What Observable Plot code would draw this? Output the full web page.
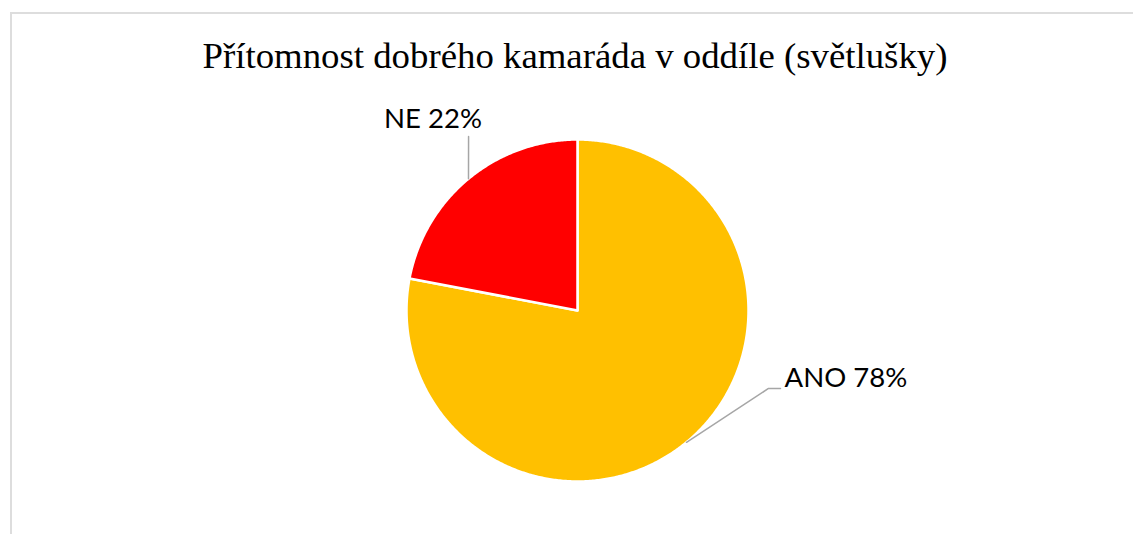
<!DOCTYPE html>
<html>
<head>
<meta charset="utf-8">
<script src="https://cdn.jsdelivr.net/npm/d3@7"></script>
<script src="https://cdn.jsdelivr.net/npm/@observablehq/plot@0.6"></script>
<style>
  html, body { margin: 0; padding: 0; background: #fff; }
  #wrap { position: relative; width: 1133px; height: 534px; overflow: hidden; }
  #frame { position: absolute; left: 10px; top: 12px; width: 1300px; height: 700px;
           border-left: 2px solid #DDDDDD; border-top: 2px solid #DDDDDD; box-sizing: border-box; }
  #chart { position: absolute; left: 0; top: 0; }
</style>
</head>
<body>
<div id="wrap"><div id="frame"></div><div id="chart"></div></div>
<script>
// ---- data ----
const title = "Přítomnost dobrého kamaráda v oddíle (světlušky)";
const categories = ["ANO", "NE"];
const values = [78, 22];
const labels = ["ANO 78%", "NE 22%"];
const colors = ["#FFC000", "#FF0000"];

// ---- layout (styling only) ----
// label placement in unit-radius coordinates
const labelLayout = {
  ANO: { leader: [[1.117, -0.456], [1.187, -0.456]], text: [1.211, -0.448], anchor: "start" },
  NE:  { leader: [[-0.637, 1.018]], text: [-0.845, 1.070], anchor: "middle" }
};

// ---- derived geometry from values (pie, clockwise from 12 o'clock) ----
const total = d3.sum(values);
const slices = [];
let acc = 0;
categories.forEach((c, i) => {
  const a0 = acc / total * 2 * Math.PI;
  acc += values[i];
  const a1 = acc / total * 2 * Math.PI;
  slices.push({ cat: c, a0, a1, mid: (a0 + a1) / 2, label: labels[i] });
});
const pt = (a, r = 1) => [r * Math.sin(a), r * Math.cos(a)];

const slicePts = [];
for (const s of slices) {
  slicePts.push({ cat: s.cat, x: 0, y: 0 });
  const n = Math.max(2, Math.ceil((s.a1 - s.a0) / (Math.PI / 360)));
  for (let k = 0; k <= n; k++) {
    const [x, y] = pt(s.a0 + (s.a1 - s.a0) * k / n);
    slicePts.push({ cat: s.cat, x, y });
  }
  slicePts.push({ cat: s.cat, x: 0, y: 0 });
}

const leaderPts = [];
const textPts = [];
for (const s of slices) {
  const L = labelLayout[s.cat];
  const [mx, my] = pt(s.mid);
  leaderPts.push({ cat: s.cat, x: mx, y: my });
  for (const [x, y] of L.leader) leaderPts.push({ cat: s.cat, x, y });
  textPts.push({ cat: s.cat, x: L.text[0], y: L.text[1], label: s.label, anchor: L.anchor });
}

const chart = Plot.plot({
  width: 1133,
  height: 534,
  margin: 0,
  x: { domain: [-1, 1], range: [406, 748], axis: null },
  y: { domain: [-1, 1], range: [481, 139], axis: null },
  color: { domain: categories, range: colors },
  style: { background: "transparent" },
  marks: [
    Plot.line(slicePts, { x: "x", y: "y", z: "cat", fill: "cat", stroke: "white", strokeWidth: 2.5, strokeLinejoin: "round", curve: "linear" }),
    Plot.line(leaderPts, { x: "x", y: "y", z: "cat", stroke: "#A6A6A6", strokeWidth: 1.5 }),
    Plot.text(textPts.filter(d => d.anchor === "start"), { x: "x", y: "y", text: "label", textAnchor: "start", lineAnchor: "bottom", fontSize: 27.5, fontFamily: "Lato", fill: "#000" }),
    Plot.text(textPts.filter(d => d.anchor === "middle"), { x: "x", y: "y", text: "label", textAnchor: "middle", lineAnchor: "bottom", fontSize: 27.5, fontFamily: "Lato", fill: "#000" }),
    Plot.text([title], { text: d => d, frameAnchor: "top", lineAnchor: "bottom", dy: 67, dx: 8, fontSize: 36.8, fontFamily: "Liberation Serif", fill: "#000" })
  ]
});
document.getElementById("chart").appendChild(chart);
</script>
</body>
</html>
